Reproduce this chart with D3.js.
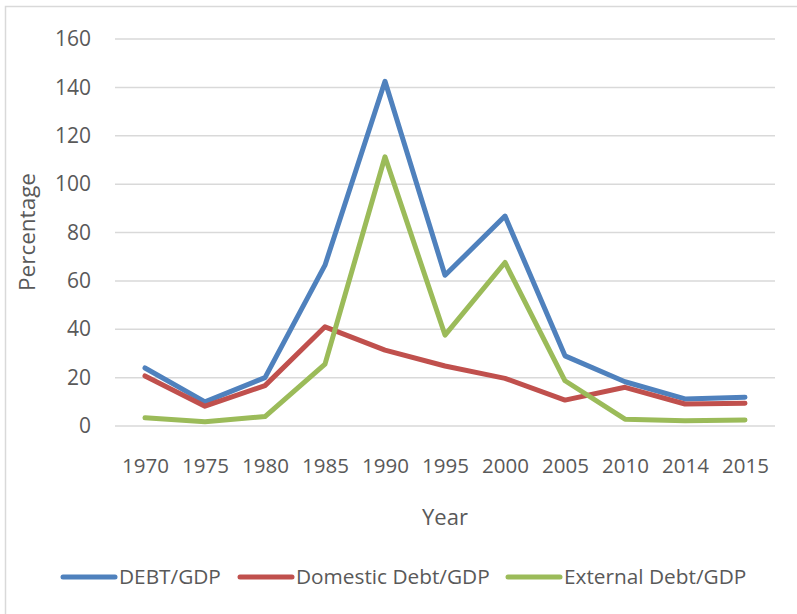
<!DOCTYPE html>
<html><head><meta charset="utf-8">
<script src="https://cdn.jsdelivr.net/npm/d3@7"></script>
<style>body{margin:0;background:#fff;} svg{display:block;}</style>
</head><body>
<svg id="c" width="797" height="614"></svg>
<script>
const years = ["1970","1975","1980","1985","1990","1995","2000","2005","2010","2014","2015"];
const debtGDP = [24, 10, 20, 66.5, 142.5, 62.3, 86.8, 29, 18.3, 11.2, 11.9];
const domesticDebtGDP = [20.7, 8.2, 16.7, 41, 31.4, 24.8, 19.7, 10.7, 16, 9.1, 9.4];
const externalDebtGDP = [3.4, 1.8, 3.9, 25.6, 111.3, 37.6, 67.6, 18.7, 2.8, 2.2, 2.5];
const yTicks = [0, 20, 40, 60, 80, 100, 120, 140, 160];
const seriesNames = ["DEBT/GDP", "Domestic Debt/GDP", "External Debt/GDP"];
const seriesColors = ["#4F81BD", "#C0504D", "#9BBB59"];
const seriesData = [debtGDP, domesticDebtGDP, externalDebtGDP];

const svg = d3.select("#c");
const font = "'Open Sans', sans-serif";
const textColor = "#595959";

svg.append("rect").attr("x",5.5).attr("y",6.5).attr("width",820).attr("height",640)
  .attr("fill","#fff").attr("stroke","#D9D9D9").attr("stroke-width",1.5);

const x = d3.scalePoint().domain(years).range([115, 775]).padding(0.5);
const y = d3.scaleLinear().domain([0,160]).range([426, 39]);

// gridlines
svg.append("g").selectAll("line").data(yTicks).join("line")
  .attr("x1",115).attr("x2",775)
  .attr("y1",d=>y(d)).attr("y2",d=>y(d))
  .attr("stroke","#D9D9D9").attr("stroke-width",1.5);

// y axis
const ya = svg.append("g").attr("transform","translate(91,0)")
  .call(d3.axisLeft(y).tickValues(yTicks).tickSize(0).tickPadding(0));
ya.select(".domain").remove();
ya.selectAll("text").attr("font-family",font).attr("font-size",21).attr("fill",textColor);

// x axis
const xa = svg.append("g").attr("transform","translate(0,458)")
  .call(d3.axisBottom(x).tickSize(0).tickPadding(0));
xa.select(".domain").remove();
xa.selectAll("text").attr("font-family",font).attr("font-size",20.5).attr("fill",textColor);

// axis titles
svg.append("text").attr("transform","translate(35,232) rotate(-90)")
  .attr("text-anchor","middle").attr("font-family",font).attr("font-size",22.5)
  .attr("fill",textColor).text("Percentage");
svg.append("text").attr("x",445).attr("y",525)
  .attr("text-anchor","middle").attr("font-family",font).attr("font-size",22)
  .attr("fill",textColor).text("Year");

// lines
const line = d3.line().x((d,i)=>x(years[i])).y(d=>y(d));
seriesData.forEach((s,k)=>{
  svg.append("path").datum(s).attr("d",line)
    .attr("fill","none").attr("stroke",seriesColors[k]).attr("stroke-width",5)
    .attr("stroke-linejoin","round").attr("stroke-linecap","round");
});

// legend
const legX = [63, 240, 508];
const lg = svg.append("g");
seriesNames.forEach((n,k)=>{
  lg.append("line").attr("x1",legX[k]).attr("x2",legX[k]+52)
    .attr("y1",577).attr("y2",577).attr("stroke",seriesColors[k]).attr("stroke-width",5)
    .attr("stroke-linecap","round");
  lg.append("text").attr("x",legX[k]+56).attr("y",584)
    .attr("font-family",font).attr("font-size",20.8).attr("fill",textColor).text(n);
});
</script>
</body></html>
